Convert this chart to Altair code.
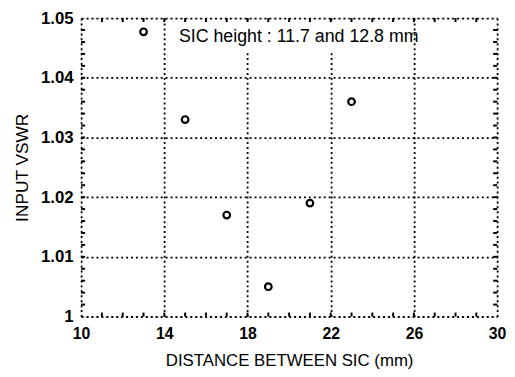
import altair as alt
import pandas as pd

# Data
distance = [13, 15, 17, 19, 21, 23]
vswr = [1.0477, 1.0330, 1.0170, 1.0050, 1.0190, 1.0360]

x_major = [10, 14, 18, 22, 26, 30]
y_major = [1.00, 1.01, 1.02, 1.03, 1.04, 1.05]
x_minor = list(range(11, 30))
y_minor = [1.002, 1.004, 1.006, 1.008, 1.012, 1.014, 1.016, 1.018,
           1.022, 1.024, 1.026, 1.028, 1.032, 1.034, 1.036, 1.038,
           1.042, 1.044, 1.046, 1.048, 1.01, 1.02, 1.03, 1.04]

note_text = ["SIC height : 11.7 and 12.8 mm"]
note_x = [14.7]
note_y = [1.0468]
box_x = [14.4]
box_x2 = [22.2]
box_y = [1.0443]
box_y2 = [1.0494]

W, H = 421, 302
FONT = "Liberation Sans"

pts = pd.DataFrame({"d": distance, "v": vswr})
xm = pd.DataFrame({"d": x_minor})
ym = pd.DataFrame({"v": y_minor})
note = pd.DataFrame({"t": note_text, "d": note_x, "v": note_y})
box = pd.DataFrame({"x": box_x, "x2": box_x2, "y": box_y, "y2": box_y2})

xscale = alt.Scale(domain=[10, 30], nice=False, zero=False)
yscale = alt.Scale(domain=[1.0, 1.05], nice=False, zero=False)

points = alt.Chart(pts).mark_point(
    shape="circle", filled=False, color="black", strokeWidth=2.2, size=45, opacity=1
).encode(
    x=alt.X("d:Q", scale=xscale,
            axis=alt.Axis(values=x_major, title="DISTANCE BETWEEN SIC (mm)",
                          grid=True, gridDash=[2, 3], gridColor="black", gridWidth=1.8,
                          gridOpacity=1, ticks=False, domain=False, labelPadding=9,
                          labelFont=FONT, labelFontSize=16, labelFontWeight="bold",
                          labelColor="black", titleFont=FONT, titleFontSize=17,
                          titleFontWeight="normal", titleColor="black", titlePadding=12,
                          labelFlush=False)),
    y=alt.Y("v:Q", scale=yscale,
            axis=alt.Axis(values=y_major, format=".2~f", title="INPUT VSWR",
                          grid=True, gridDash=[2, 3], gridColor="black", gridWidth=1.8,
                          gridOpacity=1, ticks=False, domain=False, labelPadding=8,
                          labelFont=FONT, labelFontSize=17, labelFontWeight="bold",
                          labelColor="black", titleFont=FONT, titleFontSize=17.5,
                          titleFontWeight="normal", titleColor="black", titlePadding=9,
                          labelFlush=False)),
)

white_box = alt.Chart(box).mark_rect(color="white", opacity=1).encode(
    x=alt.X("x:Q", scale=xscale), x2="x2:Q",
    y=alt.Y("y:Q", scale=yscale), y2="y2:Q")

bottom_ticks = alt.Chart(xm).mark_rule(color="black", strokeWidth=2).encode(
    x=alt.X("d:Q", scale=xscale), y=alt.value(H), y2=alt.value(H - 4))
top_ticks = alt.Chart(xm).mark_rule(color="black", strokeWidth=2).encode(
    x=alt.X("d:Q", scale=xscale), y=alt.value(0), y2=alt.value(4))
left_ticks = alt.Chart(ym).mark_rule(color="black", strokeWidth=2).encode(
    y=alt.Y("v:Q", scale=yscale), x=alt.value(0), x2=alt.value(4))
right_ticks = alt.Chart(ym).mark_rule(color="black", strokeWidth=2).encode(
    y=alt.Y("v:Q", scale=yscale), x=alt.value(W), x2=alt.value(W - 4))

text = alt.Chart(note).mark_text(
    align="left", baseline="middle", font=FONT, fontSize=18, color="black"
).encode(x=alt.X("d:Q", scale=xscale), y=alt.Y("v:Q", scale=yscale), text="t:N")

chart = alt.layer(points, white_box, bottom_ticks, top_ticks, left_ticks, right_ticks, text).properties(
    width=W, height=H,
    autosize=alt.AutoSizeParams(type="none"),
    padding={"left": 74, "top": 8, "right": 10, "bottom": 60},
).configure_view(stroke="black", strokeWidth=2.8).configure(background="white")

chart.save("out.html", embed_options={"renderer": "svg", "actions": False})
